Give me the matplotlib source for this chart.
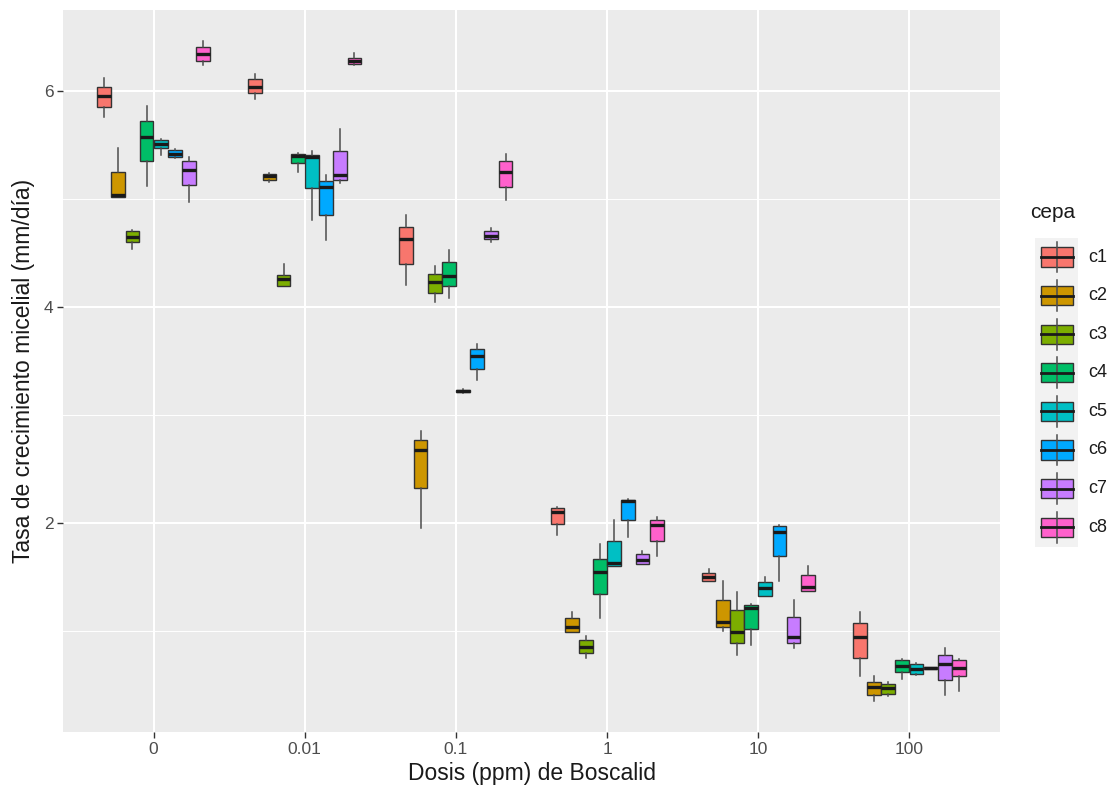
import numpy as np
import matplotlib
matplotlib.use("Agg")
import matplotlib.pyplot as plt
from matplotlib.patches import Rectangle

plt.rcParams['font.family'] = ['Liberation Sans', 'DejaVu Sans']

dosis = ["0", "0.01", "0.1", "1", "10", "100"]
cepas = ["c1", "c2", "c3", "c4", "c5", "c6", "c7", "c8"]
colores = ["#F8766D", "#CD9600", "#7CAE00", "#00BE67",
           "#00BFC4", "#00A9FF", "#C77CFF", "#FF61CC"]

# una fila por dosis, una columna por cepa
bigote_inf = [
    [5.76, 5.02, 4.54, 5.12, 5.41, 5.38, 4.97, 6.24],
    [5.93, 5.16, 4.19, 5.25, 4.81, 4.62, 5.15, 6.24],
    [4.20, 1.95, 4.05, 4.08, 3.20, 3.32, 4.60, 4.99],
    [1.89, 0.99, 0.75, 1.12, 1.60, 1.87, 1.62, 1.69],
    [1.46, 1.00, 0.78, 0.87, 1.32, 1.46, 0.84, 1.37],
    [0.58, 0.35, 0.40, 0.56, 0.59, 0.65, 0.41, 0.44],
]
q1 = [
    [5.85, 5.02, 4.60, 5.35, 5.47, 5.39, 5.13, 6.28],
    [5.98, 5.18, 4.19, 5.33, 5.10, 4.85, 5.18, 6.25],
    [4.40, 2.32, 4.13, 4.19, 3.21, 3.43, 4.63, 5.11],
    [1.99, 0.99, 0.80, 1.34, 1.60, 2.03, 1.62, 1.83],
    [1.46, 1.04, 0.89, 1.02, 1.32, 1.69, 0.89, 1.37],
    [0.75, 0.41, 0.42, 0.62, 0.60, 0.65, 0.55, 0.58],
]
mediana = [
    [5.95, 5.04, 4.65, 5.57, 5.51, 5.42, 5.27, 6.34],
    [6.04, 5.21, 4.26, 5.40, 5.39, 5.11, 5.22, 6.28],
    [4.63, 2.68, 4.23, 4.29, 3.22, 3.55, 4.66, 5.25],
    [2.10, 1.04, 0.85, 1.55, 1.63, 2.20, 1.66, 1.98],
    [1.50, 1.08, 0.99, 1.21, 1.40, 1.92, 0.94, 1.41],
    [0.94, 0.48, 0.47, 0.68, 0.645, 0.66, 0.69, 0.66],
]
q3 = [
    [6.04, 5.25, 4.70, 5.72, 5.55, 5.45, 5.35, 6.41],
    [6.11, 5.23, 4.30, 5.42, 5.41, 5.17, 5.44, 6.31],
    [4.74, 2.77, 4.31, 4.42, 3.23, 3.61, 4.70, 5.35],
    [2.14, 1.12, 0.92, 1.67, 1.83, 2.21, 1.71, 2.03],
    [1.54, 1.29, 1.19, 1.24, 1.45, 1.97, 1.13, 1.52],
    [1.07, 0.53, 0.51, 0.73, 0.69, 0.67, 0.78, 0.73],
]
bigote_sup = [
    [6.12, 5.47, 4.71, 5.86, 5.56, 5.46, 5.39, 6.46],
    [6.16, 5.24, 4.40, 5.43, 5.44, 5.22, 5.65, 6.35],
    [4.85, 2.85, 4.38, 4.53, 3.24, 3.66, 4.73, 5.42],
    [2.15, 1.18, 0.95, 1.81, 2.03, 2.22, 1.74, 2.06],
    [1.57, 1.46, 1.36, 1.25, 1.50, 1.98, 1.29, 1.60],
    [1.18, 0.58, 0.53, 0.74, 0.70, 0.67, 0.84, 0.74],
]

W, H = 1116, 798
fig = plt.figure(figsize=(W / 100, H / 100), dpi=100)
ax = fig.add_axes([63 / W, (H - 732) / H, (1000 - 63) / W, (732 - 10) / H])
ax.set_facecolor("#EBEBEB")

ancho_grupo = 0.75
n = len(cepas)
ancho = ancho_grupo / n
x = np.arange(len(dosis))

for j, (cepa, col) in enumerate(zip(cepas, colores)):
    stats = []
    for i in range(len(dosis)):
        stats.append(dict(whislo=bigote_inf[i][j], q1=q1[i][j], med=mediana[i][j],
                          q3=q3[i][j], whishi=bigote_sup[i][j], fliers=[]))
    pos = x - ancho_grupo / 2 + ancho * (j + 0.5)
    ax.bxp(stats, positions=pos, widths=ancho * 0.97, patch_artist=True,
           showfliers=False, showcaps=False, manage_ticks=False,
           boxprops=dict(facecolor=col, edgecolor="#333333", linewidth=1.0),
           medianprops=dict(color="#1A1A1A", linewidth=2.4, solid_capstyle="butt"),
           whiskerprops=dict(color="#4D4D4D", linewidth=1.1))

ax.set_xlim(-0.6, len(dosis) - 0.4)
ax.set_ylim(0.065, 6.75)
ax.set_xticks(x)
ax.set_xticklabels(dosis)
ax.set_yticks([2, 4, 6])
ax.set_yticks([1, 3, 5], minor=True)
ax.grid(True, which="major", color="white", linewidth=1.5)
ax.grid(True, which="minor", axis="y", color="white", linewidth=0.7)
ax.set_axisbelow(True)
for s in ax.spines.values():
    s.set_visible(False)
ax.tick_params(axis="both", which="major", length=4, width=1, color="#333333",
               labelcolor="#4D4D4D", labelsize=12.5, pad=3)
ax.tick_params(axis="y", which="minor", length=0)

ax.set_xlabel("Dosis (ppm) de Boscalid", fontsize=16.5, color="#1A1A1A", labelpad=4)
ax.set_ylabel("Tasa de crecimiento micelial (mm/día)", fontsize=16.5,
              color="#1A1A1A", labelpad=6)

# leyenda dibujada en coordenadas de píxel
lg = fig.add_axes([0, 0, 1, 1], facecolor="none")
lg.set_xlim(0, W)
lg.set_ylim(H, 0)
lg.axis("off")
lg.text(1030, 212, "cepa", fontsize=15, color="#1A1A1A", va="center", ha="left")
y0, paso = 257, 38.6
for j, (cepa, col) in enumerate(zip(cepas, colores)):
    yc = y0 + j * paso
    lg.add_patch(Rectangle((1035, yc - paso / 2), 43, paso, facecolor="#F2F2F2",
                           edgecolor="none"))
    lg.plot([1056.5, 1056.5], [yc - 0.4 * paso, yc + 0.4 * paso],
            color="#4D4D4D", lw=1.1)
    lg.add_patch(Rectangle((1040.5, yc - 0.25 * paso), 32, 0.5 * paso,
                           facecolor=col, edgecolor="#333333", lw=1.0))
    lg.plot([1040.5, 1072.5], [yc, yc], color="#1A1A1A", lw=2.0)
    lg.text(1088, yc, cepa, fontsize=13, color="#1A1A1A", va="center", ha="left")

fig.savefig("out.png", dpi=100)
